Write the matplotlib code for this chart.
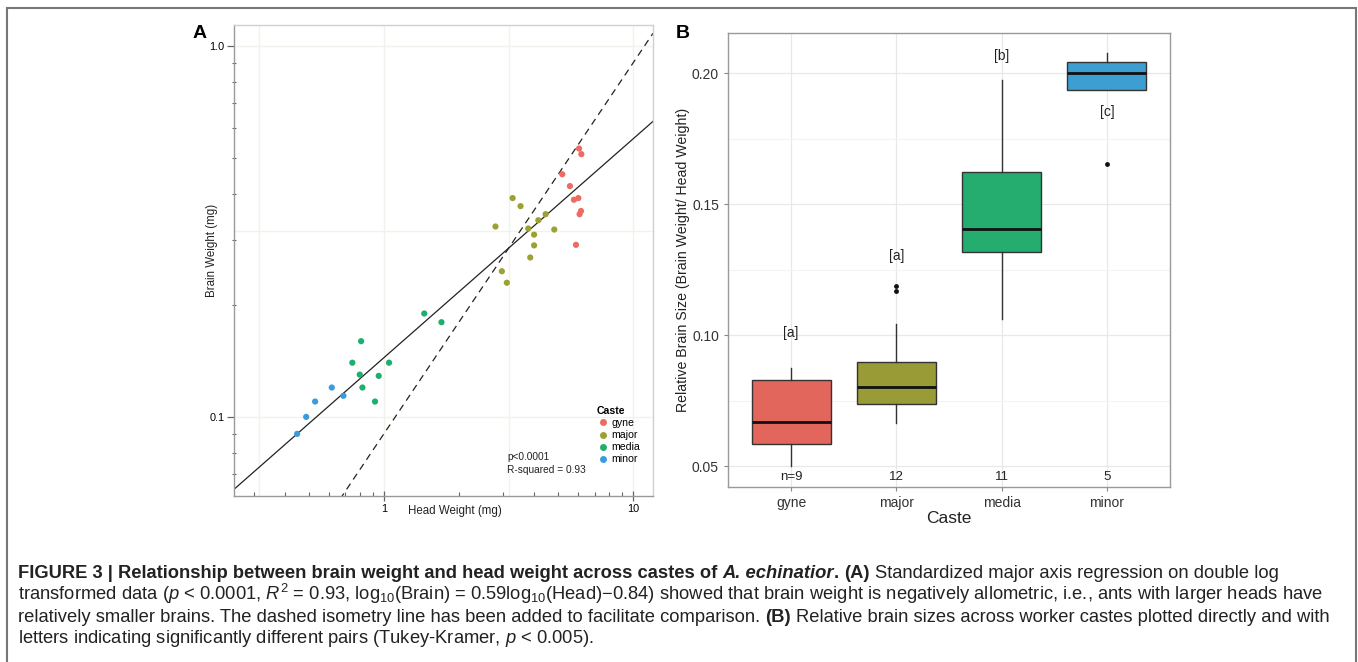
import numpy as np
import matplotlib
matplotlib.use("Agg")
import matplotlib.pyplot as plt
from matplotlib.lines import Line2D
from matplotlib.patches import Rectangle

plt.rcParams['font.family'] = ['Liberation Sans', 'DejaVu Sans']
plt.rcParams['mathtext.fontset'] = 'custom'
plt.rcParams['mathtext.rm'] = 'Liberation Sans'
plt.rcParams['mathtext.it'] = 'Liberation Sans:italic'
plt.rcParams['mathtext.bf'] = 'Liberation Sans:bold'

# --- Data: panel A (head vs brain weight, mg) ---
castes = ['gyne', 'major', 'media', 'minor']
head_gyne = [6.06, 6.19, 5.19, 5.57, 5.78, 6.02, 6.17, 6.09, 5.89]
brain_gyne = [0.529, 0.511, 0.451, 0.419, 0.385, 0.389, 0.359, 0.352, 0.291]
head_major = [3.28, 3.53, 2.80, 4.45, 4.16, 3.79, 4.00, 4.82, 4.00, 3.86, 2.97, 3.11]
brain_major = [0.389, 0.370, 0.326, 0.352, 0.339, 0.322, 0.310, 0.320, 0.290, 0.269, 0.247, 0.230]
head_media = [1.45, 1.70, 0.809, 0.746, 1.047, 0.799, 0.952, 0.819, 0.920]
brain_media = [0.190, 0.180, 0.160, 0.140, 0.140, 0.130, 0.129, 0.120, 0.110]
head_minor = [0.617, 0.687, 0.529, 0.487, 0.448]
brain_minor = [0.120, 0.114, 0.110, 0.100, 0.090]

sma_slope, sma_intercept = 0.59, -0.84      # log10(Brain) = 0.59 log10(Head) - 0.84
iso_intercept = -1.045                      # isometry line, slope 1

# --- Data: panel B (relative brain size box stats) ---
box_n = [9, 12, 11, 5]
box_whislo = [0.0500, 0.0664, 0.1060, 0.1935]
box_q1 = [0.0585, 0.0735, 0.1317, 0.1935]
box_med = [0.0667, 0.0803, 0.1406, 0.2000]
box_q3 = [0.0830, 0.0898, 0.1624, 0.2041]
box_whishi = [0.0875, 0.1044, 0.1975, 0.2076]
box_fliers = [[], [0.1188, 0.1169], [], [0.1652]]
letters = ['[a]', '[a]', '[b]', '[c]']
letter_y = [0.1006, 0.1303, 0.2065, 0.1850]

dot_colors = ['#EC6B63', '#9DA033', '#1DAF6E', '#3B9CDB']
box_colors = ['#E3665D', '#989B36', '#25AD6F', '#3C9ED1']

W, H = 1358, 662
fig = plt.figure(figsize=(W / 100, H / 100), dpi=100)

# outer frame
fig.patches.append(Rectangle((7 / W, -0.02), 1349 / W, 1.02 - 8 / H,
                             transform=fig.transFigure, fill=False,
                             edgecolor='#777777', lw=1.5))

# ================= Panel A =================
axA = fig.add_axes([234 / W, 1 - 496 / H, 419 / W, 471 / H])
axA.set_xscale('log')
axA.set_yscale('log')
xlim = (0.25, 12.0)
axA.set_xlim(*xlim)
axA.set_ylim(0.0612, 1.139)

# faint grid at decades and half-decades
for gx in [10 ** -0.5, 1, 10 ** 0.5, 10]:
    axA.axvline(gx, color='#f2f2ec', lw=1, zorder=0)
for gy in [0.1, 10 ** -0.5, 1.0]:
    axA.axhline(gy, color='#f2f2ec', lw=1, zorder=0)

xx = np.array(xlim)
axA.plot(xx, 10 ** (sma_intercept + sma_slope * np.log10(xx)), color='#222222', lw=0.9, zorder=2)
axA.plot(xx, 10 ** (iso_intercept + np.log10(xx)), color='#222222', lw=0.9, ls=(0, (5.5, 4)), zorder=2)

heads = [head_gyne, head_major, head_media, head_minor]
brains = [brain_gyne, brain_major, brain_media, brain_minor]
for c, hx, by, col in zip(castes, heads, brains, dot_colors):
    axA.scatter(hx, by, s=20, color=col, edgecolor='none', zorder=3, label=c)

axA.set_xticks([1, 10])
axA.set_xticklabels(['1', '10'])
axA.set_yticks([0.1, 1.0])
axA.set_yticklabels(['0.1', '1.0'])
axA.tick_params(which='major', labelsize=7.8, length=7, direction='inout', color='#666666', width=0.9, pad=2)
axA.tick_params(which='minor', length=3, direction='in', color='#666666', width=0.8)
axA.tick_params(axis='y', which='major', direction='out', length=5)
axA.tick_params(axis='y', which='minor', direction='inout', length=2.5)
axA.yaxis.set_minor_formatter(plt.NullFormatter())
axA.xaxis.set_minor_formatter(plt.NullFormatter())
for s in ['left', 'bottom']:
    axA.spines[s].set_color('#999999')
    axA.spines[s].set_linewidth(1)
for s in ['top', 'right']:
    axA.spines[s].set_color('#d0d0d0')
    axA.spines[s].set_linewidth(1)
axA.set_xlabel('Head Weight (mg)', fontsize=8.3, color='#222222')
axA.set_ylabel('Brain Weight (mg)', fontsize=8.3, color='#222222')
axA.xaxis.set_label_coords(0.527, -0.02)
axA.yaxis.set_label_coords(-0.037, 0.522)

axA.text(0.652, 0.069, 'p<0.0001\nR-squared = 0.93', transform=axA.transAxes,
         fontsize=7.3, va='center', ha='left', linespacing=1.3, color='#222222')
handles = [Line2D([], [], ls='none', marker='o', markersize=5, markerfacecolor=col,
                  markeredgecolor='none') for col in dot_colors]
leg = axA.legend(handles, castes, title='Caste', loc='upper left',
                 bbox_to_anchor=(0.855, 0.2), frameon=False, fontsize=7.6,
                 title_fontsize=7.6, handletextpad=0.2, labelspacing=0.2,
                 borderaxespad=0, handlelength=1.2)
leg.get_title().set_fontweight('bold')
leg._legend_box.align = 'left'

fig.text(200 / W, 1 - 33 / H, 'A', fontsize=14, fontweight='bold', ha='center', va='center')

# ================= Panel B =================
axB = fig.add_axes([728 / W, 1 - 487 / H, 442 / W, 454 / H])
pos = np.arange(1, len(castes) + 1)
stats = []
for i, c in enumerate(castes):
    stats.append(dict(label=c, med=box_med[i], q1=box_q1[i], q3=box_q3[i],
                      whislo=box_whislo[i], whishi=box_whishi[i], fliers=box_fliers[i]))
bp = axB.bxp(stats, positions=pos, widths=0.75, patch_artist=True,
             boxprops=dict(edgecolor='#333333', linewidth=1),
             medianprops=dict(color='#111111', linewidth=2),
             whiskerprops=dict(color='#333333', linewidth=1),
             capprops=dict(linewidth=0),
             flierprops=dict(marker='o', markersize=3.5, markerfacecolor='#111111',
                             markeredgecolor='none'))
for patch, col in zip(bp['boxes'], box_colors):
    patch.set_facecolor(col)
for cap in bp['caps']:
    cap.set_visible(False)

axB.set_xlim(0.4, 4.6)
axB.set_ylim(0.042, 0.2153)
axB.set_yticks([0.05, 0.10, 0.15, 0.20])
axB.set_yticklabels(['0.05', '0.10', '0.15', '0.20'])
axB.set_yticks([0.075, 0.125, 0.175], minor=True)
axB.set_xticks(pos)
axB.set_xticklabels(castes)
axB.grid(which='major', color='#e8e8e8', lw=0.9)
axB.grid(which='minor', axis='y', color='#f3f3f3', lw=0.8)
axB.set_axisbelow(True)
axB.tick_params(which='major', labelsize=10, length=3, color='#888888', labelcolor='#333333')
axB.tick_params(which='minor', length=0)
for s in axB.spines.values():
    s.set_color('#999999')
    s.set_linewidth(1)

for i in range(len(castes)):
    axB.text(pos[i], letter_y[i], letters[i], ha='center', va='center', fontsize=10, color='#222222')
    lab = 'n=%d' % box_n[i] if i == 0 else str(box_n[i])
    axB.text(pos[i], 0.0458, lab, ha='center', va='center', fontsize=9.5, color='#222222')

axB.set_xlabel('Caste', fontsize=12.5, labelpad=1, color='#222222')
axB.set_ylabel('Relative Brain Size (Brain Weight/ Head Weight)', fontsize=10.2,
               labelpad=1.5, color='#222222')

fig.text(683 / W, 1 - 33 / H, 'B', fontsize=14, fontweight='bold', ha='center', va='center')

# ================= Caption =================
fs = 13.2
cap_color = '#222222'
renderer = fig.canvas.get_renderer()
space = fs * 100 / 72 * 0.278


def draw_runs(y_px, runs):
    # y_px is the baseline, in pixels from the top
    x = 18.0
    for txt, weight, style, gap in runs:
        t = fig.text(x / W, 1 - y_px / H, txt, fontsize=fs, fontweight=weight,
                     fontstyle=style, color=cap_color, va='baseline', ha='left')
        bb = t.get_window_extent(renderer)
        x = bb.x1 + (space if gap else 0)


draw_runs(578, [
    ('FIGURE 3 | Relationship between brain weight and head weight across castes of', 'bold', 'normal', True),
    ('A. echinatior', 'bold', 'italic', False),
    ('.', 'bold', 'normal', True),
    ('(A)', 'bold', 'normal', True),
    ('Standardized major axis regression on double log', 'normal', 'normal', False),
])
draw_runs(600, [
    (r'transformed data ($p$ < 0.0001, $R^2$ = 0.93, log$_{10}$(Brain) = 0.59log$_{10}$(Head)$-$0.84) '
     r'showed that brain weight is negatively allometric, i.e., ants with larger heads have',
     'normal', 'normal', False),
])
draw_runs(621.5, [
    ('relatively smaller brains. The dashed isometry line has been added to facilitate comparison.', 'normal', 'normal', True),
    ('(B)', 'bold', 'normal', True),
    ('Relative brain sizes across worker castes plotted directly and with', 'normal', 'normal', False),
])
draw_runs(643, [
    (r'letters indicating significantly different pairs (Tukey-Kramer, $p$ < 0.005).', 'normal', 'normal', False),
])

fig.savefig('out.png', dpi=100)
